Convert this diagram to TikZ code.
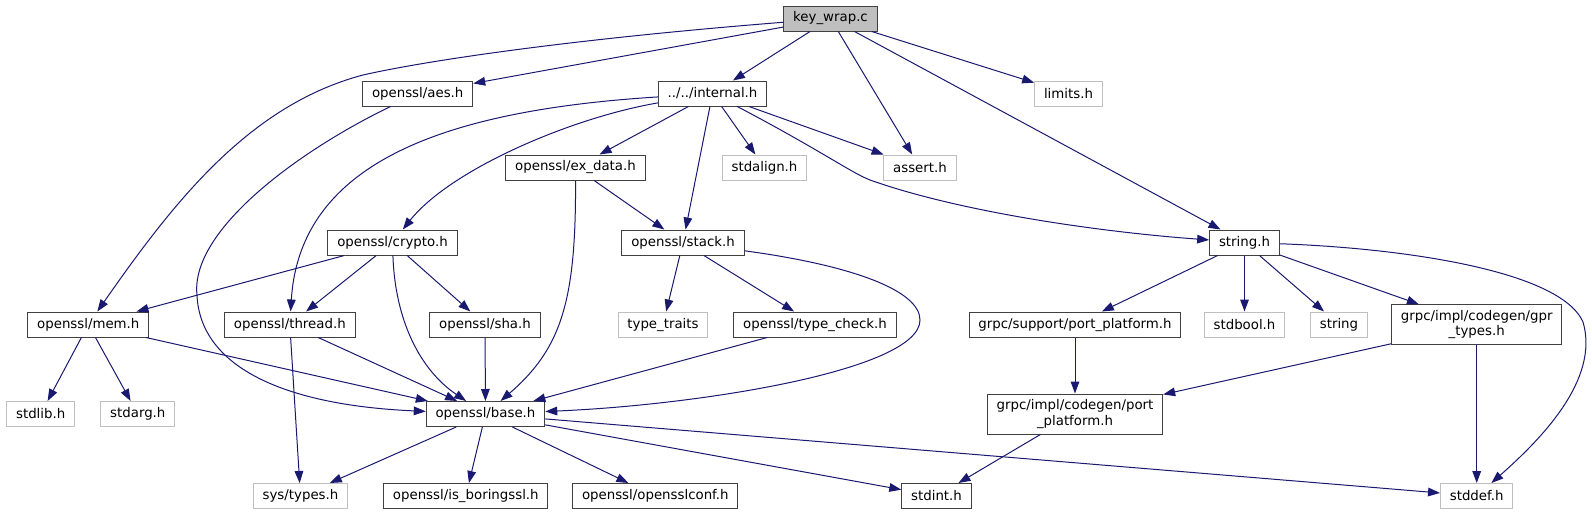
\documentclass[tikz,border=0pt]{standalone}
\usepackage{fontspec}
\setmainfont{DejaVu Sans}
\usetikzlibrary{arrows.meta}
\definecolor{edgeblue}{HTML}{191970}
\definecolor{boxgray}{HTML}{BFBFBF}
\definecolor{boxline}{HTML}{404040}
\begin{document}
\begin{tikzpicture}[x=0.75pt,y=-0.75pt,
  hdr/.style={draw=boxline, line width=0.75pt, fill=white, inner xsep=7pt, inner ysep=0pt,
    minimum height=18.75pt, font=\fontsize{10}{11.5}\selectfont, align=center},
  ext/.style={hdr, draw=boxgray},
  src/.style={hdr, fill=boxgray},
  dep/.style={draw=edgeblue, line width=0.75pt, -{Triangle[length=9pt,width=6.5pt]}}]
\useasboundingbox (0,0) rectangle (1592,515);
\node[src] (inc0) at (830.5,18.5){key\_wrap.c};
\node[hdr] (inc1) at (417.7,93.5){openssl/aes.h};
\node[hdr] (inc2) at (712.5,93.5){../../internal.h};
\node[ext] (inc3) at (1068.5,93.5){limits.h};
\node[hdr] (inc4) at (575.5,167.5){openssl/ex\_data.h};
\node[ext] (inc5) at (764.5,167.5){stdalign.h};
\node[ext] (inc6) at (920,167.5){assert.h};
\node[hdr] (inc7) at (392.5,242.5){openssl/crypto.h};
\node[hdr] (inc8) at (683,242.5){openssl/stack.h};
\node[hdr] (inc9) at (1244.5,242.5){string.h};
\node[hdr] (inc10) at (88.3,324.5){openssl/mem.h};
\node[hdr] (inc11) at (289.8,324.5){openssl/thread.h};
\node[hdr] (inc12) at (485,324.5){openssl/sha.h};
\node[ext] (inc13) at (663,324.5){type\_traits};
\node[hdr] (inc14) at (815,324.5){openssl/type\_check.h};
\node[hdr] (inc15) at (1075,324.5){grpc/support/port\_platform.h};
\node[ext] (inc16) at (1244.5,324.5){stdbool.h};
\node[ext] (inc17) at (1339,324.5){string};
\node[hdr, minimum height=30pt] (inc18) at (1476.7,324.8){grpc/impl/codegen/gpr\\\_types.h};
\node[ext] (inc19) at (40.7,414){stdlib.h};
\node[ext] (inc20) at (137.8,414){stdarg.h};
\node[hdr] (inc21) at (485.5,414){openssl/base.h};
\node[hdr, minimum height=30pt] (inc22) at (1075,414){grpc/impl/codegen/port\\\_platform.h};
\node[ext] (inc23) at (300.5,496){sys/types.h};
\node[hdr] (inc24) at (465.8,496){openssl/is\_boringssl.h};
\node[hdr] (inc25) at (655.3,496){openssl/opensslconf.h};
\node[hdr] (inc26) at (936.5,496){stdint.h};
\node[ext] (inc27) at (1476.7,496){stddef.h};
% key_wrap.c
\draw[dep] (inc0) .. controls (560,40) and (420,62) .. (363,75) .. controls (250,105) and (175,200) .. (inc10);
\draw[dep] (inc0) -- (inc1);
\draw[dep] (inc0) -- (inc2);
\draw[dep] (inc0) -- (inc6);
\draw[dep] (inc0) -- (inc9);
\draw[dep] (inc0) -- (inc3);
\draw[dep] (inc1) .. controls (300,150) and (190,230) .. (197,295) .. controls (200,365) and (280,405) .. (inc21);
% internal.h
\draw[dep] (inc2) .. controls (450,110) and (300,160) .. (inc11);
\draw[dep] (inc2) .. controls (570,118) and (450,170) .. (inc7);
\draw[dep] (inc2) -- (inc4);
\draw[dep] (inc2) -- (inc8);
\draw[dep] (inc2) -- (inc5);
\draw[dep] (inc2) -- (inc6);
\draw[dep] (inc2) .. controls (820,150) and (850,172) .. (870,180) .. controls (960,212) and (1100,232) .. (inc9);
\draw[dep] (inc4) .. controls (576,300) and (562,348) .. (inc21);
\draw[dep] (inc4) -- (inc8);
% crypto.h, stack.h
\draw[dep] (inc7) -- (inc10);
\draw[dep] (inc7) -- (inc11);
\draw[dep] (inc7) -- (inc12);
\draw[dep] (inc7) .. controls (395,320) and (420,370) .. (inc21);
\draw[dep] (inc8) -- (inc13);
\draw[dep] (inc8) -- (inc14);
\draw[dep] (inc8) .. controls (850,265) and (920,290) .. (920,320) .. controls (920,370) and (700,405) .. (inc21);
% mem.h, thread.h, sha.h, type_check.h
\draw[dep] (inc10) -- (inc19);
\draw[dep] (inc10) -- (inc20);
\draw[dep] (inc10) -- (inc21);
\draw[dep] (inc11) -- (inc23);
\draw[dep] (inc11) -- (inc21);
\draw[dep] (inc12) -- (inc21);
\draw[dep] (inc14) -- (inc21);
% base.h
\draw[dep] (inc21) -- (inc23);
\draw[dep] (inc21) -- (inc24);
\draw[dep] (inc21) -- (inc25);
\draw[dep] (inc21) -- (inc26);
\draw[dep] (inc21) -- (inc27);
% string.h
\draw[dep] (inc9) -- (inc15);
\draw[dep] (inc9) -- (inc16);
\draw[dep] (inc9) -- (inc17);
\draw[dep] (inc9) -- (inc18);
\draw[dep] (inc9) .. controls (1400,248) and (1560,270) .. (1583,322) .. controls (1600,380) and (1540,440) .. (inc27);
\draw[dep] (inc15) -- (inc22);
\draw[dep] (inc18) -- (inc22);
\draw[dep] (inc18) -- (inc27);
\draw[dep] (inc22) -- (inc26);
\end{tikzpicture}
\end{document}
